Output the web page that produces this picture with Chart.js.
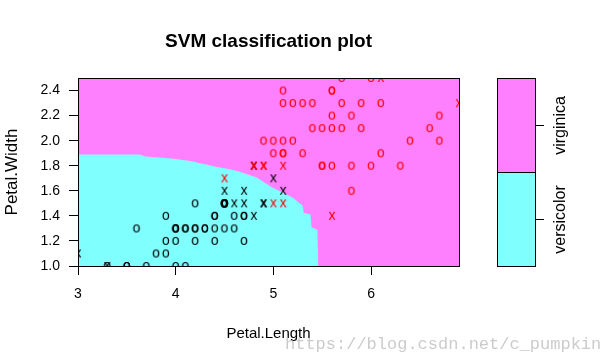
<!DOCTYPE html>
<html>
<head>
<meta charset="utf-8">
<title>SVM classification plot</title>
<script src="https://cdn.jsdelivr.net/npm/chart.js@4/dist/chart.umd.min.js"></script>
<style>
    html, body { margin: 0; padding: 0; background: #fff; }
    #wrap { width: 614px; height: 364px; }
</style>
</head>
<body>
<div id="wrap"><canvas id="svmPlot" width="614" height="364"></canvas></div>
<script>
// iris, versicolor vs virginica: Petal.Length (x) against Petal.Width (y)
const classes = ['versicolor', 'virginica'];
const classFill = ['#80FFFF', '#FF80FF'];
const classInk = ['#000000', '#FF0000'];

const xRange = [3, 6.9];
const yRange = [1.0, 2.5];
const xTicks = [3, 4, 5, 6];
const yTicks = [1.0, 1.2, 1.4, 1.6, 1.8, 2.0, 2.2, 2.4];

// data points ("o")
const versicolorLen = [4.7, 4.5, 4.0, 4.5, 4.6, 3.9, 3.5, 4.2, 4.0, 4.7, 3.6, 4.4, 4.5, 4.1, 4.5, 3.9, 4.0, 4.7, 4.3,
    4.4, 4.5, 3.5, 3.8, 3.7, 3.9, 4.5, 4.4, 4.1, 4.0, 4.4, 4.6, 4.0, 3.3, 4.2, 4.2, 4.2, 4.3, 4.1];
const versicolorWid = [1.4, 1.5, 1.3, 1.3, 1.3, 1.4, 1.0, 1.5, 1.0, 1.4, 1.3, 1.4, 1.5, 1.0, 1.5, 1.1, 1.3, 1.2, 1.3,
    1.4, 1.5, 1.0, 1.1, 1.0, 1.2, 1.5, 1.3, 1.3, 1.3, 1.2, 1.4, 1.2, 1.0, 1.3, 1.2, 1.3, 1.3, 1.3];
const virginicaLen = [6.0, 5.1, 5.9, 5.6, 5.8, 6.6, 6.3, 5.8, 5.1, 5.3, 5.5, 5.0, 5.1, 5.3, 5.5, 6.7, 5.7, 4.9, 6.7,
    5.7, 6.0, 5.6, 5.8, 6.1, 6.4, 5.6, 6.1, 5.6, 5.5, 5.4, 5.6, 5.1, 5.1, 5.9, 5.7, 5.2, 5.0, 5.2, 5.4];
const virginicaWid = [2.5, 1.9, 2.1, 1.8, 2.2, 2.1, 1.8, 1.8, 2.0, 1.9, 2.1, 2.0, 2.4, 2.3, 1.8, 2.2, 2.3, 2.0, 2.0,
    2.1, 1.8, 2.1, 1.6, 1.9, 2.0, 2.2, 2.3, 2.4, 1.8, 2.1, 2.4, 2.3, 1.9, 2.3, 2.5, 2.3, 1.9, 2.0, 2.3];

// support vectors ("x")
const versicolorSvLen = [4.9, 4.6, 4.7, 3.3, 4.8, 4.9, 4.8, 5.0, 5.1, 4.5, 4.7, 3.0];
const versicolorSvWid = [1.5, 1.5, 1.6, 1.0, 1.8, 1.5, 1.4, 1.7, 1.6, 1.6, 1.5, 1.1];
const virginicaSvLen = [4.5, 6.1, 6.9, 5.0, 4.9, 4.8, 4.9, 5.1, 5.6, 4.8, 5.1];
const virginicaSvWid = [1.7, 2.5, 2.3, 1.5, 1.8, 1.8, 1.8, 1.5, 1.4, 1.8, 1.8];

// edge of the versicolor region
const boundaryLen = [3.00, 3.63, 3.69, 3.96, 4.17, 4.25, 4.35, 4.42, 4.53, 4.64, 4.74, 4.83, 4.97, 5.10, 5.20,
    5.30, 5.31, 5.38, 5.39, 5.45, 5.46];
const boundaryWid = [1.89, 1.89, 1.874, 1.858, 1.836, 1.82, 1.804, 1.79, 1.775, 1.756, 1.73, 1.706, 1.634, 1.585,
    1.545, 1.48, 1.425, 1.41, 1.31, 1.29, 1.0];

const FONT = '"Liberation Sans", Arial, sans-serif';

const toPts = (xs, ys) => xs.map((x, i) => ({ x: x, y: ys[i] }));

// R draws the points as text characters, so do the same on a tiny canvas
function glyph(ch, color) {
    const c = document.createElement('canvas');
    c.width = 12;
    c.height = 12;
    const g = c.getContext('2d');
    g.font = '14px ' + FONT;
    g.fillStyle = color;
    g.textAlign = 'center';
    g.textBaseline = 'alphabetic';
    const m = g.measureText(ch);
    g.fillText(ch, 6, 6 + (m.actualBoundingBoxAscent - m.actualBoundingBoxDescent) / 2);
    return c;
}

function pointSet(label, xs, ys, ch, color, order) {
    return {
        type: 'scatter', label: label, data: toPts(xs, ys),
        pointStyle: glyph(ch, color), pointRadius: 6, order: order, clip: 0
    };
}

const framePlugin = {
    id: 'frame',
    afterDatasetsDraw(chart) {
        const { ctx, chartArea: a } = chart;
        ctx.save();
        ctx.strokeStyle = '#000';
        ctx.lineWidth = 1;
        ctx.strokeRect(Math.round(a.left) + 0.5, Math.round(a.top) + 0.5,
            Math.round(a.right - a.left), Math.round(a.bottom - a.top));
        ctx.restore();
    }
};

// colour key on the right, like filled.contour's key
const keyPlugin = {
    id: 'colourKey',
    afterDraw(chart) {
        const { ctx, chartArea: a } = chart;
        const left = 497, right = 535;
        const top = Math.round(a.top), bottom = Math.round(a.bottom);
        const h = (bottom - top) / classes.length;
        ctx.save();
        ctx.lineWidth = 1;
        ctx.strokeStyle = '#000';
        classes.forEach((name, i) => {
            const y0 = bottom - (i + 1) * h;
            ctx.fillStyle = classFill[i];
            ctx.fillRect(left, y0, right - left, h);
            ctx.strokeRect(left + 0.5, Math.round(y0) + 0.5, right - left, Math.round(h));
            const yc = Math.round(y0 + h / 2) + 0.5;
            ctx.beginPath();
            ctx.moveTo(right, yc);
            ctx.lineTo(right + 9, yc);
            ctx.stroke();
            ctx.save();
            ctx.translate(561, yc);
            ctx.rotate(-Math.PI / 2);
            ctx.fillStyle = '#000';
            ctx.font = '16px ' + FONT;
            ctx.textAlign = 'center';
            ctx.textBaseline = 'middle';
            ctx.fillText(name, 0, 0);
            ctx.restore();
        });
        // blog watermark that sits on the original image
        ctx.fillStyle = 'rgba(190,190,190,0.8)';
        ctx.font = '17px "Liberation Mono", "Courier New", monospace';
        ctx.textAlign = 'left';
        ctx.textBaseline = 'middle';
        ctx.fillText('https://blog.csdn.net/c_pumpkin', 285, 344);
        ctx.restore();
    }
};

const axisGrid = { drawOnChartArea: false, drawTicks: true, tickLength: 9, color: '#000', lineWidth: 1 };

new Chart(document.getElementById('svmPlot'), {
    type: 'scatter',
    data: {
        datasets: [
            pointSet('virginica (support vectors)', virginicaSvLen, virginicaSvWid, 'x', classInk[1], 0),
            pointSet('virginica', virginicaLen, virginicaWid, 'o', classInk[1], 1),
            pointSet('versicolor (support vectors)', versicolorSvLen, versicolorSvWid, 'x', classInk[0], 2),
            pointSet('versicolor', versicolorLen, versicolorWid, 'o', classInk[0], 3),
            {
                type: 'line', label: 'versicolor region', data: toPts(boundaryLen, boundaryWid),
                fill: 'start', backgroundColor: classFill[0], borderColor: 'rgba(0,0,0,0)', borderWidth: 0,
                pointRadius: 0, tension: 0, order: 4, clip: 0
            },
            {
                type: 'line', label: 'virginica region',
                data: toPts(xRange, [yRange[1], yRange[1]]),
                fill: 'start', backgroundColor: classFill[1], borderColor: 'rgba(0,0,0,0)', borderWidth: 0,
                pointRadius: 0, order: 5, clip: 0
            }
        ]
    },
    options: {
        responsive: false,
        animation: false,
        devicePixelRatio: 1,
        layout: { padding: { left: 0, right: 155, top: 0, bottom: 0 } },
        plugins: {
            legend: { display: false },
            tooltip: { enabled: false },
            title: {
                display: true, text: 'SVM classification plot', fullSize: false, color: '#000',
                font: { family: FONT, size: 19, weight: 'bold' },
                padding: { top: 30, bottom: 25.2 }
            }
        },
        scales: {
            x: {
                type: 'linear', min: xRange[0], max: xRange[1],
                afterBuildTicks: s => { s.ticks = xTicks.map(v => ({ value: v })); },
                afterFit: s => { s.height = 98; },
                grid: axisGrid,
                border: { display: false },
                ticks: {
                    color: '#000', font: { family: FONT, size: 14 }, padding: 11,
                    maxRotation: 0, autoSkip: false, callback: v => String(v)
                },
                title: {
                    display: true, text: 'Petal.Length', color: '#000',
                    font: { family: FONT, size: 15 }, padding: { top: 0, bottom: 21 }
                }
            },
            y: {
                type: 'linear', min: yRange[0], max: yRange[1],
                afterBuildTicks: s => { s.ticks = yTicks.map(v => ({ value: v })); },
                afterFit: s => { s.width = 78; },
                grid: axisGrid,
                border: { display: false },
                ticks: {
                    color: '#000', font: { family: FONT, size: 14 }, padding: 9,
                    autoSkip: false, callback: v => v.toFixed(1)
                },
                title: {
                    display: true, text: 'Petal.Width', color: '#000',
                    font: { family: FONT, size: 17 }, padding: { top: 2, bottom: 0 }
                }
            }
        }
    },
    plugins: [framePlugin, keyPlugin]
});
</script>
</body>
</html>
